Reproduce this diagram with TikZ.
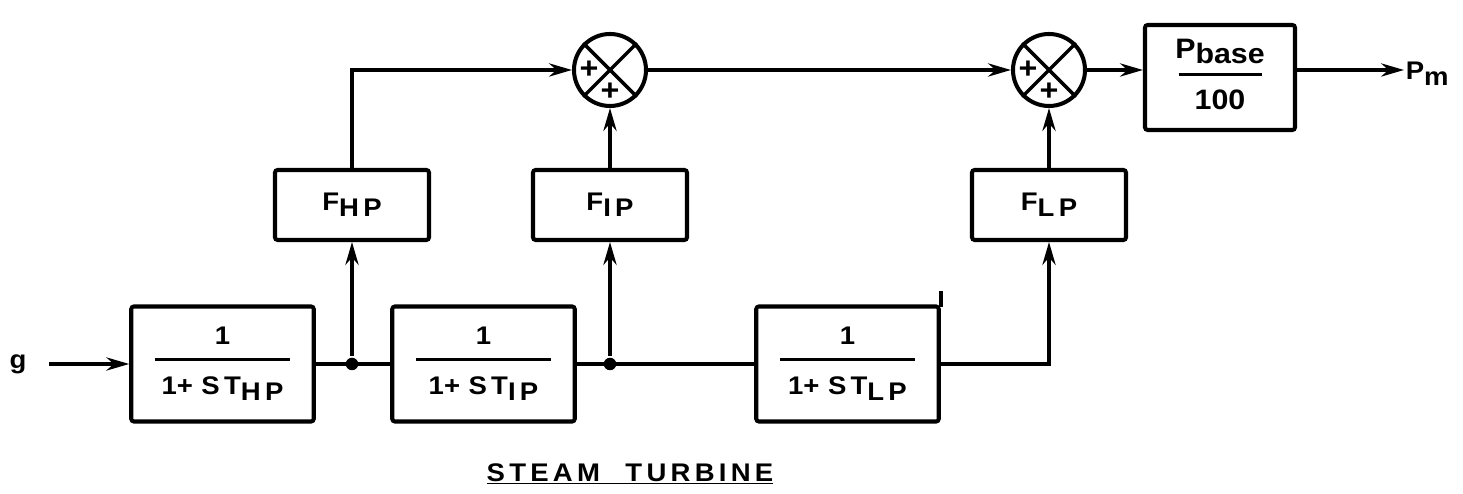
\documentclass[tikz,border=0pt]{standalone}
\usepackage{fontspec}
\setmainfont{Liberation Sans}[FakeStretch=1.08]
\usetikzlibrary{arrows.meta,positioning,calc}
\setlength{\arrayrulewidth}{1.8pt}
\newcommand{\lowsub}[1]{\raisebox{-3.2pt}{#1}}
\newcommand{\blockfrac}[3]{\begin{tabular}{@{}c@{}}\makebox[#3]{#1}\\[3pt]\hline\rule{0pt}{19pt}#2\end{tabular}}
\newcommand{\labelfont}{\fontsize{14.5}{16}\selectfont\bfseries}

\begin{document}
\begin{tikzpicture}[
  line width=2pt,
  box/.style={rectangle, draw, line width=2.3pt, rounded corners=1.5pt, minimum width=3.65cm, minimum height=2.3cm, inner sep=0pt, align=center, font=\labelfont},
  gainbox/.style={box, minimum width=3.08cm, minimum height=1.4cm},
  summer/.style={circle, draw, line width=2.3pt, minimum size=1.44cm, inner sep=0pt},
  sign/.style={font=\fontsize{17}{17}\selectfont\bfseries, inner sep=0pt},
  junc/.style={circle, fill, inner sep=0pt, minimum size=0.25cm},
  arrow/.style={-{Stealth[length=13pt,width=7.5pt]}}
]
\useasboundingbox (0,0) rectangle (29.26,9.88);

% Turbine stages
\node[font=\labelfont] (g) at (0.36,2.6) {g};
\node[box] (hp) at (4.45,2.6) {\blockfrac{1}{1+\,\,S\,T\lowsub{H\,P}}{2.7cm}};
\node[box] (ip) at (9.67,2.6) {\blockfrac{1}{1+\,\,S\,T\lowsub{I\,P}}{2.7cm}};
\node[box] (lp) at (16.95,2.6) {\blockfrac{1}{1+\,\,S\,T\lowsub{L\,P}}{2.7cm}};

\node[junc] (ja) at (7.04,2.6) {};
\node[junc] (jb) at (12.2,2.6) {};

% Power fractions
\node[gainbox] (fhp) at (7.04,5.78) {F\lowsub{H\,P}};
\node[gainbox] (fip) at (12.2,5.78) {F\lowsub{I\,P}};
\node[gainbox] (flp) at (20.98,5.78) {F\lowsub{L\,P}};

% Summing points
\node[summer] (suma) at (12.2,8.48) {};
\node[summer] (sumb) at (20.98,8.48) {};
\draw[line width=2pt] (suma.north west) -- (suma.south east) (suma.north east) -- (suma.south west);
\draw[line width=2pt] (sumb.north west) -- (sumb.south east) (sumb.north east) -- (sumb.south west);
\node[sign] (sumaw) at ($(suma)+(-0.42,0)$) {+};
\node[sign] (sumas) at ($(suma)+(0,-0.44)$) {+};
\node[sign] (sumbw) at ($(sumb)+(-0.42,0)$) {+};
\node[sign] (sumbs) at ($(sumb)+(0,-0.44)$) {+};

\node[box, minimum width=3.0cm, minimum height=2.1cm, font=\fontsize{16}{18}\selectfont\bfseries] (pb) at (24.4,8.33) {\blockfrac{P\lowsub{base}}{100}{1.66cm}};
\node[font=\labelfont, anchor=west, inner sep=0pt] (pm) at (28.08,8.4) {P\lowsub{m}};

\node[font=\labelfont] (title) at (12.6,0.4) {\underline{S\,T\,E\,A\,M\quad T\,U\,R\,B\,I\,N\,E}};

% Connections
\draw[arrow, shorten <=0.3cm] (g) -- (hp);
\draw (hp) -- (ip);
\draw (ip) -- (lp);
\draw ($(lp.north east)+(0,-0.05)$) -- ++(0,0.32);
\draw[arrow] (ja) -- (fhp);
\draw[arrow] (jb) -- (fip);
\draw[arrow] (lp.east) -| (flp.south);
\draw[arrow] (fhp.north) |- (suma.west);
\draw[arrow] (fip) -- (suma);
\draw[arrow] (flp) -- (sumb);
\draw[arrow] (suma) -- (sumb);
\draw[arrow] (sumb) -- (sumb -| pb.west);
\draw[arrow] (sumb -| pb.east) -- (pm.west |- sumb);

\end{tikzpicture}
\end{document}
